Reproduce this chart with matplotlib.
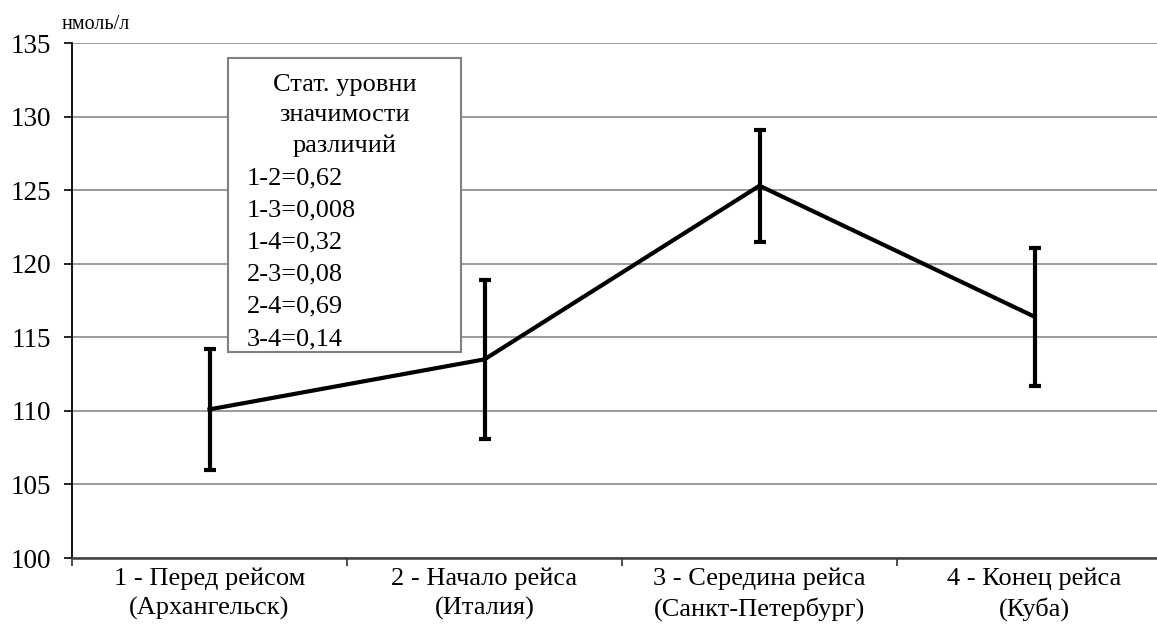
import matplotlib.pyplot as plt
from matplotlib.patches import Rectangle

plt.rcParams['font.family'] = ['Liberation Serif', 'DejaVu Serif']

#------------- data -----------
categories = ["1 - Перед рейсом\n(Архангельск)", "2 - Начало рейса\n(Италия)",
              "3 - Середина рейса\n(Санкт-Петербург)", "4 - Конец рейса\n(Куба)"]
means = [110.1, 113.5, 125.3, 116.4]
errors = [4.1, 5.4, 3.8, 4.7]
y_ticks = [100, 105, 110, 115, 120, 125, 130, 135]
legend_title = "Стат. уровни\nзначимости\nразличий"
legend_rows = ["1-2=0,62", "1-3=0,008", "1-4=0,32", "2-3=0,08", "2-4=0,69", "3-4=0,14"]

FS = 19
W, H = 1157, 635
fig = plt.figure(figsize=(W / 100, H / 100), dpi=100)
# axes runs a bit past the right edge, like the original crop
ax = fig.add_axes([72 / W, 77 / H, 1100 / W, 515 / H])

x = list(range(len(categories)))
ax.errorbar(x, means, yerr=errors, color="black", lw=3, elinewidth=3,
            capsize=4.5, capthick=3, zorder=3)

ax.set_xlim(-0.5, 3.5)
ax.set_ylim(100, 135)
ax.set_yticks(y_ticks)
ax.yaxis.grid(True, color="#808080", lw=1.1)
ax.set_axisbelow(True)

ax.set_xticks(x)
ax.set_xticklabels(categories, fontsize=FS, linespacing=1.36)
ax.set_xticks([-0.5, 0.5, 1.5, 2.5], minor=True)
ax.tick_params(axis="x", which="major", length=0, pad=7)
ax.tick_params(axis="x", which="minor", length=6, width=1.3, color="#404040")
ax.tick_params(axis="y", length=6, width=1.2, labelsize=19.5, pad=9)

for s in ["top", "right"]:
    ax.spines[s].set_visible(False)
ax.spines["left"].set_linewidth(1.3)
ax.spines["bottom"].set_linewidth(1.8)
ax.spines["bottom"].set_color("#404040")

# unit label
fig.text(62 / W, 1 - 29 / H, "нмоль/л", fontsize=14.5, ha="left", va="baseline")

# ------------ p-value box -------------
bx0, by0, bx1, by1 = 228, 58, 461, 352
fig.patches.append(Rectangle((bx0 / W, 1 - by1 / H), (bx1 - bx0) / W, (by1 - by0) / H,
                             transform=fig.transFigure, facecolor="white",
                             edgecolor="#808080", lw=1.5, zorder=5))
fig.text((bx0 + bx1) / 2 / W, 1 - 74 / H, legend_title, fontsize=FS, ha="center",
         va="top", linespacing=1.47, zorder=6)
for i, row in enumerate(legend_rows):
    fig.text(247 / W, 1 - (178 + i * 32.2) / H, row, fontsize=FS, ha="left",
             va="center", zorder=6)

fig.savefig("out.png", dpi=100)
